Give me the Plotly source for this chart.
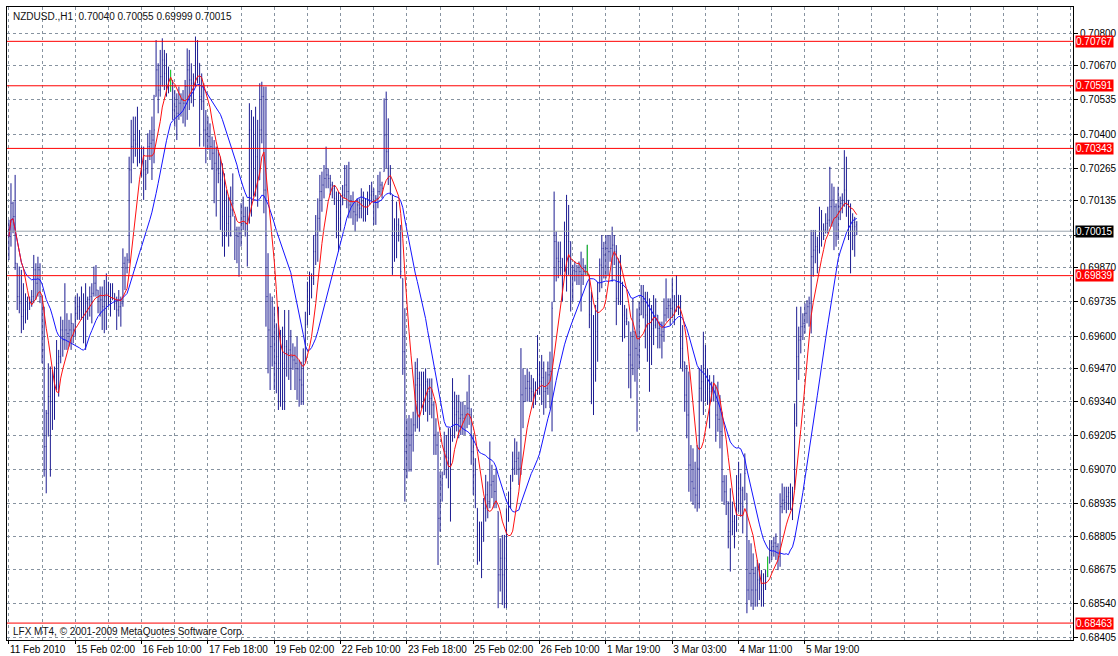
import plotly.graph_objects as go
import pandas as pd

symbol = "NZDUSD.,H1"

opens = [
0.70020,0.69994,0.70126,0.70073,0.69888,0.69756,0.69730,0.69677,0.69703,0.69690,
0.69730,0.69743,0.69756,0.69862,0.69809,0.69862,0.69756,0.69545,0.69162,0.69294,
0.69360,0.69340,0.69413,0.69426,0.69492,0.69518,0.69624,0.69584,0.69624,0.69610,
0.69624,0.69650,0.69624,0.69690,0.69716,0.69703,0.69730,0.69690,0.69730,0.69745,
0.69756,0.69769,0.69809,0.69782,0.69756,0.69743,0.69716,0.69756,0.69769,0.69756,
0.69743,0.69769,0.69730,0.69703,0.69716,0.69730,0.69888,0.69870,0.69901,0.70258,
0.70350,0.70376,0.70360,0.70324,0.70310,0.70284,0.70258,0.70244,0.70350,0.70363,
0.70376,0.70548,0.70654,0.70574,0.70627,0.70693,0.70640,0.70614,0.70601,0.70601,
0.70495,0.70508,0.70482,0.70522,0.70535,0.70522,0.70588,0.70654,0.70614,0.70601,
0.70627,0.70733,0.70680,0.70548,0.70530,0.70416,0.70400,0.70390,0.70350,0.70324,
0.70284,0.70258,0.70244,0.70218,0.70073,0.70020,0.70046,0.70073,0.70099,0.70073,
0.70020,0.69994,0.70007,0.70046,0.70073,0.70046,0.70046,0.70416,0.70284,0.70258,
0.70310,0.70218,0.70416,0.70548,0.70178,0.69756,0.69624,0.69558,0.69598,0.69492,
0.69518,0.69492,0.69545,0.69492,0.69558,0.69532,0.69545,0.69518,0.69505,0.69492,
0.69470,0.69426,0.69406,0.69498,0.69644,0.69736,0.69802,0.69828,0.69934,0.70000,
0.70066,0.70172,0.70198,0.70224,0.70238,0.70224,0.70198,0.70185,0.70145,0.70092,
0.70066,0.70119,0.70158,0.70198,0.70172,0.70119,0.70132,0.70092,0.70080,0.70119,
0.70106,0.70132,0.70119,0.70106,0.70132,0.70158,0.70172,0.70132,0.70145,0.70172,
0.70198,0.70251,0.70396,0.70330,0.70264,0.70158,0.70000,0.69987,0.70040,0.70013,
0.69828,0.69538,0.69142,0.69208,0.69168,0.69208,0.69248,0.69406,0.69432,0.69406,
0.69390,0.69406,0.69419,0.69380,0.69353,0.69327,0.69208,0.69168,0.68878,0.69010,
0.69050,0.69142,0.69120,0.69116,0.69182,0.69314,0.69288,0.69300,0.69274,0.69288,
0.69274,0.69288,0.69314,0.69288,0.69142,0.69050,0.68918,0.68812,0.68830,0.68786,
0.68918,0.68971,0.68944,0.69010,0.69024,0.68984,0.68905,0.68654,0.68720,0.68654,
0.68720,0.68865,0.68944,0.69024,0.69076,0.69103,0.69116,0.69076,0.69367,0.69340,
0.69393,0.69420,0.69393,0.69380,0.69367,0.69380,0.69446,0.69420,0.69435,0.69380,
0.69393,0.69446,0.69460,0.69736,0.69974,0.69908,0.69895,0.69908,0.69855,0.69974,
0.69908,0.69974,0.69842,0.69860,0.69855,0.69840,0.69855,0.69842,0.69855,0.69870,
0.69842,0.69684,0.69446,0.69445,0.69617,0.69775,0.69881,0.69947,0.69921,0.69947,
0.69934,0.69947,0.69960,0.69934,0.69749,0.69815,0.69800,0.69683,0.69657,0.69657,
0.69525,0.69485,0.69617,0.69551,0.69525,0.69683,0.69736,0.69749,0.69683,0.69643,
0.69617,0.69630,0.69643,0.69683,0.69630,0.69604,0.69617,0.69683,0.69709,0.69720,
0.69709,0.69736,0.69723,0.69762,0.69709,0.69551,0.69498,0.69366,0.69287,0.69089,
0.69023,0.68997,0.68970,0.69076,0.69393,0.69419,0.69485,0.69445,0.69393,0.69380,
0.69393,0.69406,0.69287,0.69270,0.69221,0.69023,0.68983,0.68944,0.68825,0.68812,
0.68865,0.68825,0.68917,0.68997,0.68990,0.68950,0.68977,0.68594,0.68660,0.68594,
0.68660,0.68594,0.68634,0.68620,0.68594,0.68620,0.68647,0.68700,0.68752,0.68766,
0.68780,0.68766,0.68726,0.68924,0.68950,0.68940,0.68964,0.68980,0.68977,0.68990,
0.69254,0.69518,0.69584,0.69637,0.69650,0.69690,0.69716,0.69730,0.69914,0.69940,
0.69954,0.69940,0.70033,0.70006,0.70020,0.70046,0.70059,0.70112,0.70138,0.70112,
0.70072,0.70112,0.70125,0.70138,0.70178,0.70138,0.70059,0.70033,0.70050,0.70040,
]

highs = [
0.70060,0.70205,0.70132,0.70238,0.69888,0.69875,0.69862,0.69809,0.69769,0.69756,
0.69756,0.69782,0.69921,0.69888,0.69914,0.69888,0.69756,0.69716,0.69307,0.69492,
0.69479,0.69466,0.69479,0.69584,0.69545,0.69677,0.69664,0.69809,0.69690,0.69664,
0.69690,0.69650,0.69756,0.69769,0.69756,0.69796,0.69769,0.69809,0.69756,0.69796,
0.69809,0.69875,0.69881,0.69782,0.69796,0.69796,0.69822,0.69848,0.69815,0.69809,
0.69809,0.69769,0.69756,0.69782,0.69756,0.69947,0.69914,0.69928,0.70310,0.70456,
0.70469,0.70469,0.70508,0.70416,0.70350,0.70350,0.70297,0.70403,0.70416,0.70469,
0.70555,0.70772,0.70680,0.70733,0.70779,0.70733,0.70720,0.70667,0.70654,0.70614,
0.70574,0.70561,0.70588,0.70561,0.70574,0.70614,0.70739,0.70733,0.70680,0.70640,
0.70786,0.70772,0.70680,0.70640,0.70601,0.70495,0.70469,0.70442,0.70390,0.70376,
0.70350,0.70337,0.70310,0.70284,0.70244,0.70178,0.70152,0.70192,0.70244,0.70073,
0.70033,0.70033,0.70126,0.70152,0.70112,0.70112,0.70522,0.70495,0.70469,0.70508,
0.70456,0.70601,0.70607,0.70588,0.70588,0.69928,0.69769,0.69756,0.69716,0.69650,
0.69716,0.69624,0.69637,0.69703,0.69584,0.69703,0.69624,0.69571,0.69558,0.69598,
0.69505,0.69498,0.69551,0.69696,0.69815,0.69855,0.69848,0.70000,0.70079,0.70145,
0.70238,0.70251,0.70277,0.70350,0.70264,0.70238,0.70211,0.70198,0.70172,0.70172,
0.70158,0.70198,0.70277,0.70277,0.70290,0.70158,0.70172,0.70132,0.70145,0.70145,
0.70185,0.70172,0.70145,0.70172,0.70198,0.70211,0.70185,0.70158,0.70238,0.70251,
0.70211,0.70541,0.70568,0.70462,0.70277,0.70158,0.70066,0.70132,0.70066,0.70040,
0.69828,0.69710,0.69274,0.69287,0.69274,0.69300,0.69498,0.69512,0.69459,0.69459,
0.69459,0.69472,0.69432,0.69432,0.69432,0.69340,0.69274,0.69221,0.69063,0.69063,
0.69221,0.69208,0.69235,0.69235,0.69433,0.69380,0.69367,0.69367,0.69340,0.69340,
0.69327,0.69380,0.69446,0.69314,0.69208,0.69116,0.68918,0.68865,0.68865,0.68958,
0.69050,0.69024,0.69182,0.69090,0.69050,0.69076,0.68905,0.68799,0.68812,0.68812,
0.68918,0.68984,0.69050,0.69142,0.69195,0.69182,0.69142,0.69552,0.69472,0.69446,
0.69472,0.69459,0.69446,0.69433,0.69420,0.69604,0.69499,0.69525,0.69499,0.69459,
0.69499,0.69538,0.69736,0.70172,0.70014,0.69974,0.69974,0.69908,0.70053,0.70159,
0.70119,0.69974,0.69882,0.69895,0.69882,0.69895,0.69934,0.69908,0.69882,0.69961,
0.69842,0.69776,0.69683,0.69723,0.69815,0.69907,0.70000,0.69973,0.70000,0.70000,
0.70000,0.70033,0.70000,0.69960,0.69907,0.69921,0.69815,0.69723,0.69709,0.69657,
0.69617,0.69749,0.69617,0.69709,0.69736,0.69802,0.69802,0.69775,0.69775,0.69749,
0.69723,0.69762,0.69749,0.69683,0.69657,0.69657,0.69749,0.69828,0.69749,0.69749,
0.69828,0.69762,0.69841,0.69762,0.69762,0.69643,0.69498,0.69485,0.69459,0.69168,
0.69155,0.69102,0.69168,0.69472,0.69485,0.69617,0.69564,0.69472,0.69445,0.69419,
0.69445,0.69406,0.69419,0.69366,0.69300,0.69049,0.69049,0.68944,0.68997,0.68944,
0.68891,0.69049,0.69102,0.69056,0.69003,0.69135,0.68977,0.68792,0.68779,0.68739,
0.68686,0.68713,0.68700,0.68673,0.68660,0.68673,0.68726,0.68792,0.68792,0.68805,
0.68818,0.68779,0.68977,0.69016,0.69003,0.69003,0.69003,0.69016,0.69003,0.69333,
0.69716,0.69637,0.69716,0.69690,0.69729,0.69742,0.69756,0.70020,0.70020,0.70020,
0.69993,0.70112,0.70099,0.70046,0.70086,0.70112,0.70270,0.70204,0.70191,0.70125,
0.70191,0.70152,0.70165,0.70336,0.70310,0.70138,0.70125,0.70086,0.70072,0.70055,
]

lows = [
0.69901,0.69954,0.70007,0.69862,0.69703,0.69690,0.69611,0.69624,0.69650,0.69664,
0.69703,0.69716,0.69730,0.69743,0.69756,0.69730,0.69492,0.69043,0.68977,0.69202,
0.69043,0.69228,0.69268,0.69386,0.69360,0.69492,0.69518,0.69545,0.69545,0.69558,
0.69545,0.69571,0.69598,0.69664,0.69664,0.69664,0.69571,0.69545,0.69664,0.69677,
0.69650,0.69756,0.69756,0.69690,0.69677,0.69624,0.69611,0.69624,0.69716,0.69677,
0.69743,0.69703,0.69624,0.69677,0.69637,0.69716,0.69782,0.69848,0.69888,0.70205,
0.70284,0.70310,0.70271,0.70284,0.70231,0.70139,0.70178,0.70244,0.70297,0.70218,
0.70284,0.70548,0.70482,0.70548,0.70588,0.70574,0.70548,0.70561,0.70568,0.70456,
0.70429,0.70376,0.70456,0.70469,0.70442,0.70429,0.70456,0.70495,0.70522,0.70508,
0.70588,0.70601,0.70350,0.70495,0.70350,0.70284,0.70337,0.70297,0.70258,0.70126,
0.70073,0.70205,0.70020,0.69954,0.69914,0.69994,0.69954,0.69994,0.70073,0.69901,
0.69888,0.69835,0.69954,0.70020,0.69994,0.69875,0.70046,0.70073,0.70152,0.70152,
0.70112,0.70218,0.70363,0.70086,0.69637,0.69452,0.69386,0.69479,0.69386,0.69373,
0.69307,0.69320,0.69307,0.69307,0.69439,0.69426,0.69386,0.69466,0.69386,0.69347,
0.69320,0.69327,0.69327,0.69498,0.69644,0.69683,0.69749,0.69802,0.69881,0.69894,
0.70013,0.70092,0.70145,0.70185,0.70185,0.70158,0.70145,0.70119,0.69987,0.69934,
0.70013,0.70119,0.70145,0.70106,0.70066,0.70066,0.70040,0.70013,0.70053,0.70066,
0.70066,0.70053,0.70053,0.70079,0.70119,0.70132,0.70040,0.70040,0.70106,0.70158,
0.70145,0.70251,0.70264,0.70198,0.70158,0.69842,0.69894,0.69908,0.69974,0.69828,
0.69446,0.68944,0.69036,0.69063,0.69063,0.69142,0.69221,0.69234,0.69221,0.69314,
0.69287,0.69300,0.69261,0.69287,0.69274,0.69129,0.69129,0.68693,0.68825,0.68944,
0.69050,0.69036,0.68997,0.68865,0.69182,0.69195,0.69222,0.69195,0.69208,0.69208,
0.69208,0.69235,0.69248,0.69090,0.68971,0.68918,0.68694,0.68707,0.68641,0.68786,
0.68865,0.68878,0.68918,0.68958,0.68918,0.68918,0.68522,0.68588,0.68535,0.68522,
0.68522,0.68865,0.68918,0.69024,0.69050,0.69050,0.69010,0.69050,0.69235,0.69340,
0.69340,0.69340,0.69340,0.69314,0.69327,0.69367,0.69367,0.69327,0.69288,0.69314,
0.69367,0.69314,0.69222,0.69736,0.69816,0.69829,0.69842,0.69736,0.69855,0.69776,
0.69842,0.69697,0.69736,0.69816,0.69802,0.69802,0.69697,0.69802,0.69842,0.69842,
0.69631,0.69330,0.69287,0.69419,0.69498,0.69775,0.69789,0.69828,0.69828,0.69841,
0.69894,0.69815,0.69881,0.69643,0.69723,0.69723,0.69577,0.69591,0.69643,0.69393,
0.69353,0.69445,0.69419,0.69221,0.69472,0.69683,0.69670,0.69551,0.69498,0.69379,
0.69485,0.69564,0.69630,0.69551,0.69551,0.69511,0.69577,0.69657,0.69670,0.69643,
0.69670,0.69643,0.69696,0.69683,0.69472,0.69459,0.69300,0.69195,0.68983,0.68944,
0.68931,0.68917,0.68904,0.68917,0.69340,0.69287,0.69340,0.69327,0.69234,0.69340,
0.69340,0.69181,0.69221,0.69155,0.68944,0.68931,0.68891,0.68759,0.68667,0.68812,
0.68759,0.68825,0.68904,0.68884,0.68818,0.68950,0.68502,0.68554,0.68528,0.68515,
0.68528,0.68528,0.68554,0.68528,0.68528,0.68594,0.68647,0.68700,0.68713,0.68726,
0.68713,0.68673,0.68686,0.68898,0.68911,0.68898,0.68911,0.68911,0.68871,0.68990,
0.69241,0.69426,0.69531,0.69584,0.69610,0.69650,0.69637,0.69610,0.69835,0.69888,
0.69848,0.69927,0.69954,0.69980,0.70006,0.70006,0.70033,0.70033,0.69940,0.69954,
0.69980,0.70059,0.70086,0.70112,0.70072,0.69980,0.69848,0.69940,0.69914,0.69999,
]

closes = [
0.69994,0.70126,0.70073,0.69888,0.69756,0.69730,0.69677,0.69703,0.69690,0.69730,
0.69743,0.69756,0.69862,0.69809,0.69862,0.69756,0.69545,0.69162,0.69294,0.69360,
0.69340,0.69413,0.69426,0.69492,0.69518,0.69624,0.69584,0.69624,0.69610,0.69624,
0.69650,0.69624,0.69690,0.69716,0.69703,0.69730,0.69690,0.69730,0.69745,0.69756,
0.69769,0.69809,0.69782,0.69756,0.69743,0.69716,0.69756,0.69769,0.69756,0.69743,
0.69769,0.69730,0.69703,0.69716,0.69730,0.69888,0.69870,0.69901,0.70258,0.70350,
0.70376,0.70360,0.70324,0.70310,0.70284,0.70258,0.70240,0.70350,0.70363,0.70376,
0.70416,0.70654,0.70574,0.70627,0.70693,0.70640,0.70614,0.70601,0.70601,0.70495,
0.70508,0.70482,0.70522,0.70535,0.70522,0.70588,0.70654,0.70614,0.70601,0.70627,
0.70733,0.70680,0.70548,0.70530,0.70416,0.70400,0.70390,0.70350,0.70324,0.70284,
0.70258,0.70244,0.70218,0.70073,0.70020,0.70046,0.70073,0.70099,0.70126,0.70020,
0.69994,0.70007,0.70046,0.70073,0.70046,0.70020,0.70416,0.70284,0.70258,0.70310,
0.70218,0.70416,0.70548,0.70178,0.69756,0.69624,0.69558,0.69598,0.69492,0.69518,
0.69492,0.69545,0.69492,0.69558,0.69532,0.69545,0.69518,0.69505,0.69492,0.69470,
0.69426,0.69406,0.69472,0.69644,0.69736,0.69802,0.69828,0.69934,0.70000,0.70066,
0.70172,0.70198,0.70224,0.70238,0.70224,0.70198,0.70185,0.70145,0.70092,0.70066,
0.70119,0.70158,0.70198,0.70172,0.70119,0.70132,0.70092,0.70080,0.70119,0.70106,
0.70132,0.70119,0.70106,0.70132,0.70158,0.70172,0.70132,0.70145,0.70172,0.70198,
0.70185,0.70396,0.70330,0.70264,0.70198,0.70000,0.69987,0.70040,0.70013,0.69855,
0.69538,0.69142,0.69208,0.69168,0.69208,0.69248,0.69406,0.69432,0.69406,0.69390,
0.69406,0.69419,0.69380,0.69353,0.69327,0.69208,0.69168,0.68878,0.69010,0.69036,
0.69142,0.69120,0.69116,0.69182,0.69314,0.69288,0.69300,0.69274,0.69288,0.69274,
0.69288,0.69314,0.69288,0.69142,0.69050,0.68971,0.68812,0.68830,0.68786,0.68918,
0.68971,0.68944,0.69010,0.69024,0.68984,0.68944,0.68654,0.68720,0.68654,0.68720,
0.68852,0.68944,0.68997,0.69076,0.69103,0.69116,0.69076,0.69367,0.69340,0.69393,
0.69420,0.69393,0.69380,0.69367,0.69380,0.69446,0.69420,0.69435,0.69380,0.69393,
0.69446,0.69460,0.69710,0.69974,0.69908,0.69895,0.69908,0.69842,0.69974,0.69908,
0.69974,0.69842,0.69860,0.69855,0.69840,0.69855,0.69842,0.69855,0.69870,0.69870,
0.69684,0.69446,0.69445,0.69617,0.69749,0.69881,0.69947,0.69921,0.69947,0.69934,
0.69947,0.69960,0.69934,0.69749,0.69815,0.69800,0.69683,0.69657,0.69670,0.69525,
0.69485,0.69617,0.69551,0.69525,0.69683,0.69736,0.69749,0.69683,0.69643,0.69617,
0.69630,0.69643,0.69683,0.69630,0.69604,0.69617,0.69683,0.69709,0.69720,0.69709,
0.69736,0.69723,0.69775,0.69709,0.69551,0.69498,0.69366,0.69287,0.69089,0.69023,
0.68997,0.68970,0.69076,0.69393,0.69419,0.69485,0.69445,0.69393,0.69380,0.69393,
0.69406,0.69287,0.69270,0.69221,0.69023,0.68983,0.68944,0.68825,0.68759,0.68865,
0.68825,0.68917,0.68997,0.68990,0.68924,0.69056,0.68594,0.68660,0.68594,0.68660,
0.68594,0.68634,0.68620,0.68594,0.68620,0.68647,0.68647,0.68752,0.68766,0.68780,
0.68766,0.68726,0.68924,0.68950,0.68940,0.68964,0.68980,0.68977,0.68924,0.69254,
0.69518,0.69584,0.69637,0.69650,0.69690,0.69716,0.69730,0.69914,0.69940,0.69954,
0.69940,0.70033,0.70006,0.70020,0.70046,0.70059,0.70112,0.70138,0.70112,0.70072,
0.70112,0.70125,0.70138,0.70178,0.70138,0.70059,0.70033,0.70050,0.70033,0.70015,
]

# date labels shown every 32 hourly bars (grid every 16 bars)
date_labels = ["11 Feb 2010", "15 Feb 02:00", "16 Feb 10:00", "17 Feb 18:00",
               "19 Feb 02:00", "22 Feb 10:00", "23 Feb 18:00", "25 Feb 02:00",
               "26 Feb 10:00", "1 Mar 19:00", "3 Mar 03:00", "4 Mar 11:00",
               "5 Mar 19:00"]
label_every = 32
grid_every = 16

price_ticks = [0.70800, 0.70670, 0.70535, 0.70400, 0.70265, 0.70135, 0.70000,
               0.69870, 0.69735, 0.69600, 0.69470, 0.69340, 0.69205, 0.69070,
               0.68935, 0.68805, 0.68675, 0.68540, 0.68405]

levels = [0.70767, 0.70591, 0.70343, 0.69839, 0.68463]

fast_period = 8
slow_period = 21

# ---------------- styling ----------------
FONT = "Liberation Sans, Arial, sans-serif"
BAR = "rgb(28,28,145)"
DOJI = "#22dd22"
GRID = "#8793a0"
DASH = "3px,3px"

n = len(closes)
idx = list(range(n))
x_min, x_max = -0.92, 513.3

ma_fast = pd.Series(closes).rolling(fast_period, min_periods=1).mean()
ma_slow = pd.Series(closes).rolling(slow_period, min_periods=1).mean()

fig = go.Figure()
fig.add_trace(go.Ohlc(
    x=idx, open=opens, high=highs, low=lows, close=closes,
    increasing=dict(line=dict(color=BAR, width=1)),
    decreasing=dict(line=dict(color=BAR, width=1)),
    tickwidth=0.25, hoverinfo="skip", showlegend=False))

# bars with open == close are drawn in the line-chart colour (green)
doji = [i for i in idx if opens[i] == closes[i]]
dx, dy = [], []
for i in doji:
    dx += [i, i, None]
    dy += [lows[i], highs[i], None]
fig.add_trace(go.Scatter(x=dx, y=dy, mode="lines", line=dict(color=DOJI, width=1),
                         hoverinfo="skip", showlegend=False))

fig.add_trace(go.Scatter(x=idx, y=ma_slow, mode="lines",
                         line=dict(color="#1414ff", width=1),
                         hoverinfo="skip", showlegend=False))
fig.add_trace(go.Scatter(x=idx, y=ma_fast, mode="lines",
                         line=dict(color="#ff1010", width=1),
                         hoverinfo="skip", showlegend=False))

shapes = []
last_price = closes[-1]
shapes.append(dict(type="line", xref="paper", x0=0, x1=1, yref="y",
                   y0=last_price, y1=last_price, line=dict(color="#9aa3ad", width=1),
                   layer="above"))
for lv in levels:
    shapes.append(dict(type="line", xref="paper", x0=0, x1=1, yref="y",
                       y0=lv, y1=lv, line=dict(color="#ff0000", width=1), layer="above"))

annotations = []
for lv in levels:
    annotations.append(dict(x=1, xref="paper", xanchor="left", xshift=2,
                            y=lv, yref="y", yanchor="middle", showarrow=False,
                            text=f"{lv:.5f}", bgcolor="#ff0000", borderpad=0,
                            font=dict(family=FONT, size=10, color="white")))
annotations.append(dict(x=1, xref="paper", xanchor="left", xshift=2,
                        y=last_price, yref="y", yanchor="middle", showarrow=False,
                        text=f"{last_price:.5f}", bgcolor="#000000", borderpad=0,
                        font=dict(family=FONT, size=10, color="white")))
annotations.append(dict(x=0, xref="paper", xanchor="left", xshift=4,
                        y=1, yref="paper", yanchor="top", yshift=-2, showarrow=False,
                        text=f"{symbol}  {opens[-1]:.5f} {highs[-1]:.5f} {lows[-1]:.5f} {closes[-1]:.5f}",
                        font=dict(family=FONT, size=10, color="#111111")))
annotations.append(dict(x=0, xref="paper", xanchor="left", xshift=4,
                        y=0, yref="paper", yanchor="bottom", yshift=1, showarrow=False,
                        text="LFX MT4, © 2001-2009 MetaQuotes Software Corp.",
                        font=dict(family=FONT, size=10, color="#111111")))

label_pos = [k * label_every for k in range(len(date_labels))]
minor_pos = [p for p in range(0, int(x_max) + 1, grid_every) if p not in label_pos]

# the 0.70000 label sits under the current-price marker, as in the terminal
tick_text = ["" if abs(v - last_price) < 0.0002 else f"{v:.5f}" for v in price_ticks]

fig.update_layout(
    width=1118, height=656,
    margin=dict(l=7, r=45, t=7, b=16, autoexpand=False),
    paper_bgcolor="white", plot_bgcolor="white",
    showlegend=False,
    shapes=shapes, annotations=annotations,
    xaxis=dict(
        range=[x_min, x_max], tickmode="array", tickvals=label_pos, ticktext=date_labels,
        ticks="outside", ticklen=3, tickcolor="#000", tickwidth=1, tickangle=0,
        ticklabelposition="outside right", automargin=False,
        showgrid=True, gridcolor=GRID, griddash=DASH, gridwidth=1,
        minor=dict(tickmode="array", tickvals=minor_pos, showgrid=True,
                   gridcolor=GRID, griddash=DASH, gridwidth=1, ticks=""),
        showline=True, linecolor="#000", linewidth=1, mirror=True, zeroline=False,
        rangeslider=dict(visible=False), fixedrange=True,
        tickfont=dict(family=FONT, size=10, color="#000"),
    ),
    yaxis=dict(
        side="right", range=[0.68396, 0.70903], tickmode="array",
        tickvals=price_ticks, ticktext=tick_text, automargin=False,
        ticks="outside", ticklen=4, tickcolor="#000", tickwidth=1,
        showgrid=True, gridcolor=GRID, griddash=DASH, gridwidth=1,
        showline=True, linecolor="#000", linewidth=1, mirror=True, zeroline=False,
        fixedrange=True,
        tickfont=dict(family=FONT, size=10, color="#000"),
    ),
)

fig.write_html("out.html", config={"displayModeBar": False},
               post_script="document.body.style.margin='0px';"
                           "document.body.style.padding='0px';"
                           "document.body.style.overflow='hidden';")
